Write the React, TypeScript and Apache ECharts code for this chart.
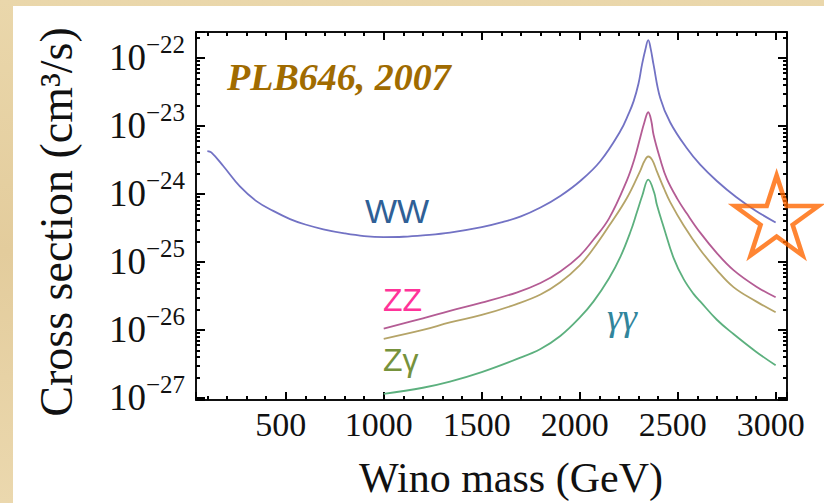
import React, { useEffect, useRef } from "react";
import * as echarts from "echarts";

// Axis ranges (x in GeV, y as log10 of cross section in cm^3/s)
const X_MIN = 42;
const X_MAX = 3058;
const Y_MIN = -27.03;
const Y_MAX = -21.62;

// WW channel (log10 sigma v)
const massWW = [100, 120, 181, 266, 352, 436, 522, 600, 692, 800, 900, 1000, 1100, 1200, 1338, 1500, 1600, 1700, 1800, 1901, 2003, 2105, 2207, 2250, 2275, 2300, 2318, 2335, 2350, 2362, 2377, 2411, 2462, 2547, 2615, 2700, 2800, 2900, 3000];
const logWW = [-23.37, -23.39, -23.59, -23.89, -24.11, -24.25, -24.37, -24.45, -24.52, -24.58, -24.62, -24.635, -24.63, -24.61, -24.57, -24.49, -24.42, -24.33, -24.2, -24.03, -23.81, -23.52, -23.08, -22.82, -22.64, -22.38, -22.1, -21.88, -21.74, -21.86, -22.1, -22.59, -22.95, -23.33, -23.57, -23.81, -24.05, -24.25, -24.42];

// ZZ channel
const massZZ = [1000, 1200, 1338, 1500, 1678, 1800, 1901, 2000, 2071, 2150, 2241, 2280, 2309, 2330, 2350, 2365, 2377, 2410, 2445, 2500, 2547, 2615, 2700, 2785, 2900, 3000];
const logZZ = [-25.98, -25.83, -25.72, -25.6, -25.45, -25.31, -25.14, -24.91, -24.67, -24.36, -23.8, -23.48, -23.17, -22.95, -22.8, -22.92, -23.13, -23.48, -23.78, -24.08, -24.29, -24.57, -24.87, -25.12, -25.36, -25.52];

// Z gamma channel
const massZg = [1000, 1200, 1338, 1500, 1678, 1800, 1901, 2000, 2071, 2150, 2241, 2309, 2330, 2350, 2370, 2394, 2430, 2462, 2530, 2615, 2700, 2785, 2900, 3000];
const logZg = [-26.13, -26.0, -25.89, -25.78, -25.62, -25.48, -25.3, -25.05, -24.8, -24.47, -24.06, -23.66, -23.52, -23.45, -23.5, -23.67, -23.92, -24.12, -24.46, -24.82, -25.12, -25.37, -25.58, -25.74];

// gamma gamma channel
const massGG = [1000, 1200, 1338, 1500, 1678, 1800, 1901, 2000, 2071, 2150, 2207, 2260, 2292, 2320, 2350, 2380, 2394, 2430, 2479, 2530, 2581, 2615, 2700, 2785, 2900, 3000];
const logGG = [-26.94, -26.85, -26.76, -26.62, -26.43, -26.28, -26.09, -25.82, -25.58, -25.24, -24.93, -24.55, -24.27, -24.02, -23.79, -23.98, -24.16, -24.5, -24.94, -25.25, -25.47, -25.58, -25.85, -26.06, -26.32, -26.52];

// Highlight star (annotation)
const starMass = [3005];
const starLog = [-24.375];

// Log-axis minor tick multipliers
const minorMultipliers = [2, 3, 4, 5, 6, 7, 8, 9];

const STAR_PATH =
  "path://M100,0L122.45,69.1L195.1,69.1L136.3,111.8L158.8,180.9L100,138.2L41.2,180.9L63.7,111.8L4.9,69.1L77.55,69.1Z";

const pair = (xs: number[], ys: number[]) => xs.map((x, i) => [x, ys[i]]);

export default function App() {
  const ref = useRef<HTMLDivElement>(null);

  useEffect(() => {
    if (!ref.current) return;
    const chart = echarts.init(ref.current, null, { renderer: "svg" });

    const serif = "Liberation Serif";
    const sans = "Liberation Sans";
    const lineBase = { type: "line", showSymbol: false, smooth: 0.4, silent: true, z: 3 };

    const frameLine = { show: true, onZero: false, lineStyle: { color: "#111", width: 2 } };
    const tickLine = { color: "#000", width: 2 };
    const majorTickX = { show: true, inside: true, length: 8, lineStyle: tickLine };
    const minorTickX = { show: true, inside: true, length: 4, lineStyle: tickLine };
    const majorTickY = { show: true, inside: true, length: 9, lineStyle: tickLine };
    const minorTickY = { show: true, inside: true, length: 4, lineStyle: tickLine };

    const hiddenAxis = {
      type: "value",
      splitLine: { show: false },
      axisLine: { show: false, onZero: false },
      axisLabel: { show: false },
    };

    const xAxes = [
      {
        ...hiddenAxis,
        position: "bottom",
        min: X_MIN,
        max: X_MAX,
        splitNumber: 5,
        axisLine: frameLine,
        axisTick: majorTickX,
        axisLabel: {
          show: true,
          formatter: (v: number) => (v % 500 === 0 ? String(v) : ""),
          fontFamily: serif,
          fontSize: 34,
          color: "#111",
          margin: 7,
          padding: [0, 10, 0, 0],
        },
      },
      { ...hiddenAxis, position: "top", min: X_MIN, max: X_MAX, splitNumber: 5, axisLine: frameLine, axisTick: majorTickX },
      { ...hiddenAxis, position: "bottom", min: X_MIN, max: X_MAX, splitNumber: 30, axisTick: minorTickX },
      { ...hiddenAxis, position: "top", min: X_MIN, max: X_MAX, splitNumber: 30, axisTick: minorTickX },
    ];

    const yAxes: any[] = [
      {
        ...hiddenAxis,
        position: "left",
        min: Y_MIN,
        max: Y_MAX,
        splitNumber: 5,
        axisLine: frameLine,
        axisTick: majorTickY,
        axisLabel: {
          show: true,
          formatter: (v: number) => {
            const r = Math.round(v);
            if (Math.abs(v - r) > 1e-6) return "";
            return `{b|10}{s|\u2212${-r}}`;
          },
          margin: 11,
          rich: {
            b: { fontFamily: serif, fontSize: 37, color: "#111", lineHeight: 52 },
            s: { fontFamily: serif, fontSize: 25, color: "#111", lineHeight: 26, verticalAlign: "top" },
          },
        },
      },
      { ...hiddenAxis, position: "right", min: Y_MIN, max: Y_MAX, splitNumber: 5, axisLine: frameLine, axisTick: majorTickY },
    ];
    // minor log ticks: axes shifted by log10(k) put their integer ticks at k * 10^n
    minorMultipliers.forEach((k) => {
      const shift = Math.log10(k);
      ["left", "right"].forEach((pos) => {
        yAxes.push({
          ...hiddenAxis,
          position: pos,
          min: Y_MIN - shift,
          max: Y_MAX - shift,
          splitNumber: 5,
          axisTick: minorTickY,
        });
      });
    });

    chart.setOption({
      animation: false,
      grid: { left: 183, top: 26, right: 37, bottom: 103, show: false },
      xAxis: xAxes,
      yAxis: yAxes,
      series: [
        { ...lineBase, name: "WW", data: pair(massWW, logWW), lineStyle: { color: "#7272c4", width: 1.8 } },
        { ...lineBase, name: "ZZ", data: pair(massZZ, logZZ), lineStyle: { color: "#b45c94", width: 1.8 } },
        { ...lineBase, name: "Zγ", data: pair(massZg, logZg), lineStyle: { color: "#b5a468", width: 1.8 } },
        { ...lineBase, name: "γγ", data: pair(massGG, logGG), lineStyle: { color: "#5cb07e", width: 1.8 } },
        {
          type: "scatter",
          data: pair(starMass, starLog),
          symbol: STAR_PATH,
          symbolSize: [84, 80],
          symbolOffset: [0, -4],
          itemStyle: { color: "rgba(255,255,255,0)", borderColor: "#ff6600", borderWidth: 4.5 },
          z: 10,
          silent: true,
        },
      ],
      graphic: [
        {
          type: "text",
          x: 214,
          y: 71,
          style: {
            text: "PLB646, 2007",
            fontFamily: serif,
            fontSize: 38,
            fontWeight: "bold",
            fontStyle: "italic",
            fill: "#a06b00",
            align: "left",
            verticalAlign: "middle",
          },
        },
        {
          type: "text",
          x: 352,
          y: 205,
          style: { text: "WW", fontFamily: sans, fontSize: 34, fill: "#2f6096", align: "left", verticalAlign: "middle" },
        },
        {
          type: "text",
          x: 370,
          y: 294,
          style: { text: "ZZ", fontFamily: sans, fontSize: 32, fill: "#ff3399", align: "left", verticalAlign: "middle" },
        },
        {
          type: "text",
          x: 370,
          y: 354,
          style: { text: "Zγ", fontFamily: sans, fontSize: 32, fill: "#76923c", align: "left", verticalAlign: "middle" },
        },
        {
          type: "text",
          x: 594,
          y: 311,
          style: {
            text: "γγ",
            fontFamily: serif,
            fontStyle: "italic",
            fontSize: 38,
            fill: "#31859c",
            align: "left",
            verticalAlign: "middle",
          },
        },
        {
          type: "text",
          x: 498,
          y: 472,
          style: {
            text: "Wino mass (GeV)",
            fontFamily: serif,
            fontSize: 42,
            fill: "#111",
            align: "center",
            verticalAlign: "middle",
          },
        },
        {
          type: "text",
          x: 43,
          y: 216,
          rotation: Math.PI / 2,
          style: {
            text: "Cross section (cm³/s)",
            fontFamily: serif,
            fontSize: 46,
            fill: "#111",
            align: "center",
            verticalAlign: "middle",
          },
        },
      ],
    });

    return () => chart.dispose();
  }, []);

  return (
    <div
      style={{
        position: "fixed",
        left: 0,
        top: 0,
        width: 824,
        height: 503,
        overflow: "hidden",
        background: "linear-gradient(180deg, #ead7ab 0%, #e3cc9c 50%, #ebd8ae 100%)",
      }}
    >
      <div
        ref={ref}
        style={{ position: "absolute", left: 13, top: 6, width: 811, height: 497, background: "#ffffff" }}
      />
    </div>
  );
}
